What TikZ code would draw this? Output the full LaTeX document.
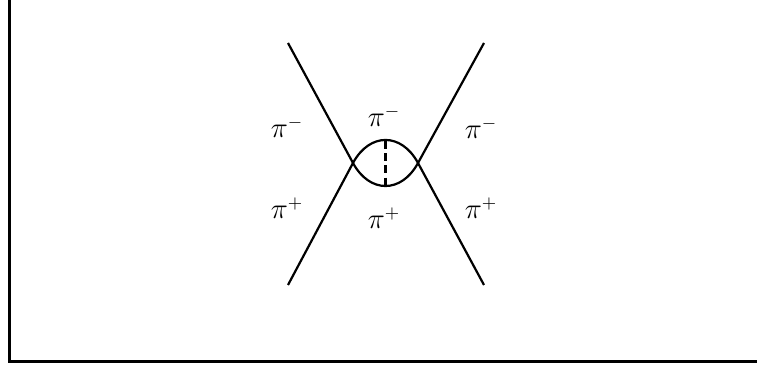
\documentclass[tikz,border=0pt]{standalone}
\usetikzlibrary{calc}

\begin{document}
\begin{tikzpicture}[x=0.5pt, y=0.5pt, line width=1.1pt, every node/.style={font=\fontsize{13.5}{15}\selectfont}]
  \useasboundingbox (0,0) rectangle (757,367);
  \draw[line width=1.35pt] (9.2,367) -- (9.2,5.5) -- (757,5.5);
  \coordinate (topL) at (288,324);
  \coordinate (botL) at (288,82);
  \coordinate (topR) at (484,324);
  \coordinate (botR) at (484,82);
  \coordinate (crossL) at (353,204);
  \coordinate (crossR) at (418,204);
  \coordinate (loopTop) at (385.5,226);
  \coordinate (loopBot) at (385.5,181);
  \draw (topL) -- (crossL) .. controls ($(crossL)+(16.6,-30.7)$) and ($(crossR)+(-16.6,-30.7)$) .. (crossR) -- (topR);
  \draw (botL) -- (crossL) .. controls ($(crossL)+(16.6,30.7)$) and ($(crossR)+(-16.6,30.7)$) .. (crossR) -- (botR);
  \draw[line width=1.3pt, dash pattern=on 3.8pt off 2.3pt] (loopTop) -- (loopBot);
  \node (piMinusL) at (287,240) {$\pi^-$};
  \node (piMinusC) at (384,251) {$\pi^-$};
  \node (piMinusR) at (481,239) {$\pi^-$};
  \node (piPlusL) at (287,159) {$\pi^+$};
  \node (piPlusC) at (384,149) {$\pi^+$};
  \node (piPlusR) at (481,159) {$\pi^+$};
\end{tikzpicture}
\end{document}
